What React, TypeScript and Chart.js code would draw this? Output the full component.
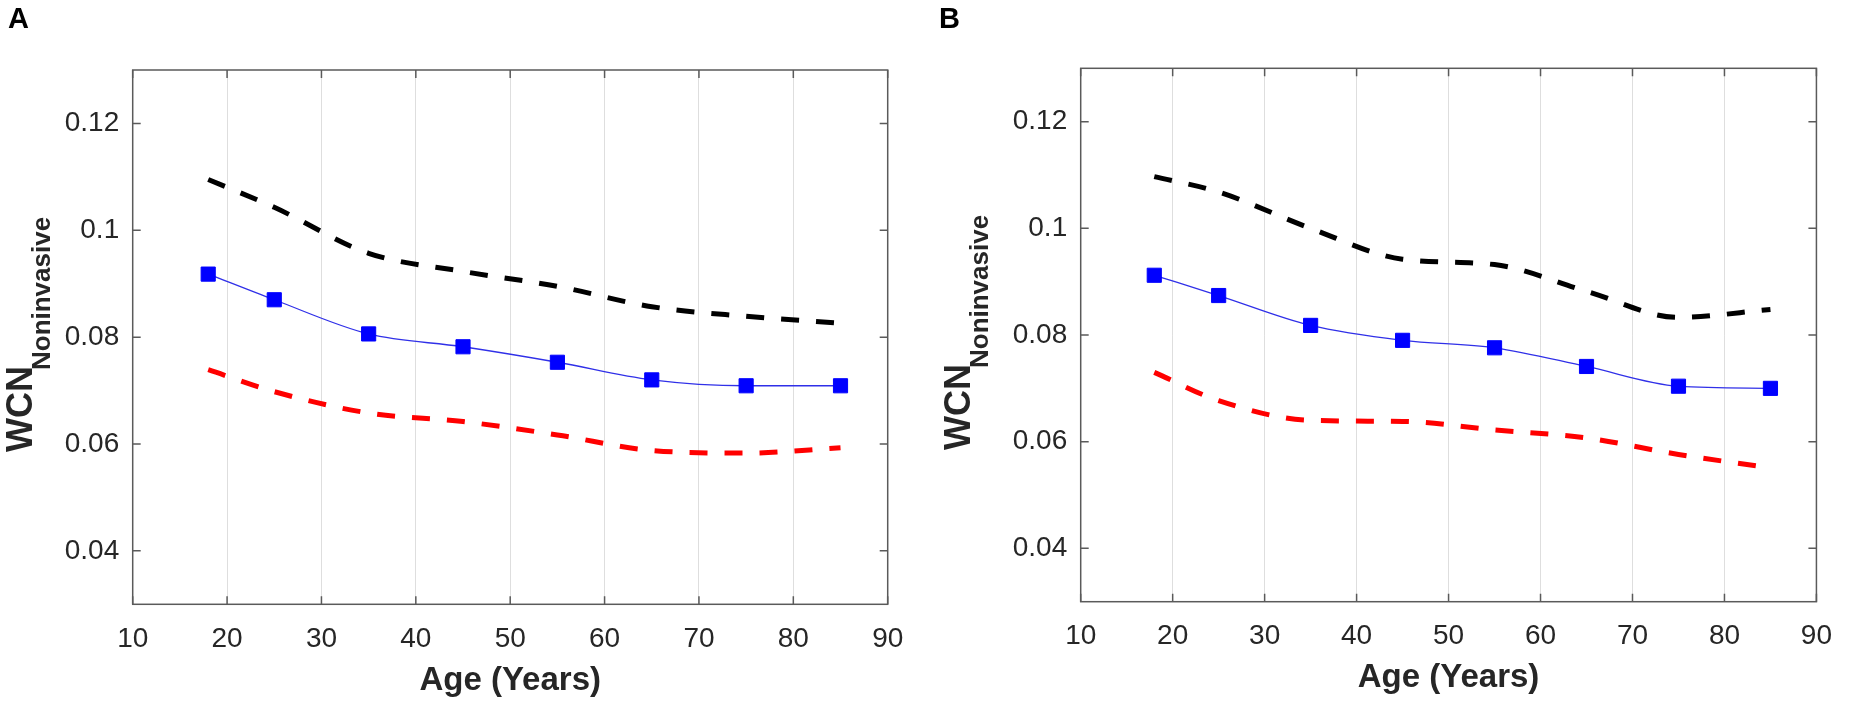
import { useEffect, useRef } from "react"
import { Chart, registerables } from "chart.js"

Chart.register(...registerables)

// Age groups (x) and tick values shared by both panels
const ages = [18, 25, 35, 45, 55, 65, 75, 85]
const xTickValues = [10, 20, 30, 40, 50, 60, 70, 80, 90]
const yTickValues = [0.04, 0.06, 0.08, 0.1, 0.12]

// Panel A
const meanA = [0.0918, 0.087, 0.0806, 0.0782, 0.0753, 0.072, 0.0709, 0.0709]
const upperA = [0.1095, 0.1043, 0.0957, 0.0923, 0.0895, 0.0857, 0.0839, 0.0826]
const lowerA = [0.0739, 0.0698, 0.0658, 0.0642, 0.0617, 0.0588, 0.0583, 0.0593]

// Panel B
const meanB = [0.0912, 0.0874, 0.0818, 0.079, 0.0776, 0.0741, 0.0704, 0.07]
const upperB = [0.1097, 0.1068, 0.1, 0.0942, 0.0932, 0.0882, 0.0833, 0.0848]
const lowerB = [0.073, 0.0677, 0.064, 0.0638, 0.0622, 0.0607, 0.0576, 0.0551]

const FONT = '"Liberation Sans", Arial, Helvetica, sans-serif'
const TEXT = "#262626"

// MATLAB-like box, inward ticks, panel letter and subscripted y label
const matlabFrame = {
  id: "matlabFrame",
  afterDraw(chart: any, _args: any, opts: any) {
    const { ctx } = chart
    const { left, right, top, bottom } = chart.chartArea
    const xs = chart.scales.x
    const ys = chart.scales.y
    const tick = 8

    ctx.save()
    ctx.strokeStyle = "#5a5a5a"
    ctx.lineWidth = 1.5
    ctx.strokeRect(left, top, right - left, bottom - top)
    ctx.beginPath()
    xs.ticks.forEach((t: any) => {
      const px = xs.getPixelForValue(t.value)
      ctx.moveTo(px, bottom)
      ctx.lineTo(px, bottom - tick)
      ctx.moveTo(px, top)
      ctx.lineTo(px, top + tick)
    })
    ys.ticks.forEach((t: any) => {
      const py = ys.getPixelForValue(t.value)
      ctx.moveTo(left, py)
      ctx.lineTo(left + tick, py)
      ctx.moveTo(right, py)
      ctx.lineTo(right - tick, py)
    })
    ctx.stroke()

    ctx.fillStyle = "#000"
    ctx.textAlign = "left"
    ctx.textBaseline = "alphabetic"
    ctx.font = `bold 29px ${FONT}`
    ctx.fillText(opts.letter, opts.letterX, 28)

    ctx.fillStyle = TEXT
    ctx.translate(opts.labelX, opts.labelY)
    ctx.rotate(-Math.PI / 2)
    ctx.font = `bold 36px ${FONT}`
    ctx.fillText("WCN", 0, 0)
    const w = ctx.measureText("WCN").width
    ctx.font = `bold 26px ${FONT}`
    ctx.fillText("Noninvasive", w - 4, 18)
    ctx.restore()
  },
}

interface PanelProps {
  mean: number[]
  upper: number[]
  lower: number[]
  letter: string
  left: number
  plotLeft: number
  plotRight: number
  plotTop: number
  plotBottom: number
  labelX: number
  labelY: number
  letterX: number
  titlePad: number
}

const W = 925
const H = 705

function Panel(p: PanelProps) {
  const canvasRef = useRef<HTMLCanvasElement>(null)

  useEffect(() => {
    if (!canvasRef.current) return
    const toPoints = (vals: number[]) => ages.map((a, i) => ({ x: a, y: vals[i] }))

    const chart = new Chart(canvasRef.current, {
      type: "line",
      data: {
        datasets: [
          {
            data: toPoints(p.upper),
            borderColor: "#000000",
            borderWidth: 5,
            borderDash: [18, 17],
            pointRadius: 0,
            cubicInterpolationMode: "monotone",
            fill: false,
          },
          {
            data: toPoints(p.lower),
            borderColor: "#ff0000",
            borderWidth: 5,
            borderDash: [18, 17],
            pointRadius: 0,
            cubicInterpolationMode: "monotone",
            fill: false,
          },
          {
            data: toPoints(p.mean),
            borderColor: "#3030e8",
            borderWidth: 1.3,
            pointStyle: "rect",
            pointRadius: 10,
            pointBackgroundColor: "#0000ff",
            pointBorderColor: "#0000ff",
            pointBorderWidth: 1,
            cubicInterpolationMode: "monotone",
            fill: false,
          },
        ],
      },
      options: {
        responsive: false,
        animation: false,
        layout: {
          padding: { left: 0, right: W - p.plotRight, top: p.plotTop, bottom: 0 },
        },
        scales: {
          x: {
            type: "linear",
            min: 10,
            max: 90,
            afterBuildTicks: (scale: any) => {
              scale.ticks = xTickValues.map((v) => ({ value: v }))
            },
            afterFit: (scale: any) => {
              scale.height = H - p.plotBottom
            },
            grid: { color: "#dedede", lineWidth: 1, drawTicks: false },
            border: { display: false },
            ticks: {
              autoSkip: false,
              maxRotation: 0,
              padding: 18,
              color: TEXT,
              font: { family: FONT, size: 28 },
            },
            title: {
              display: true,
              text: "Age (Years)",
              color: TEXT,
              font: { family: FONT, size: 33, weight: "bold" },
              padding: { top: 0, bottom: p.titlePad },
            },
          },
          y: {
            type: "linear",
            min: 0.03,
            max: 0.13,
            afterBuildTicks: (scale: any) => {
              scale.ticks = yTickValues.map((v) => ({ value: v }))
            },
            afterFit: (scale: any) => {
              scale.width = p.plotLeft
            },
            grid: { display: false, drawTicks: false },
            border: { display: false },
            ticks: {
              padding: 13.5,
              color: TEXT,
              font: { family: FONT, size: 28 },
              callback: (v: any) => String(Number(Number(v).toFixed(2))),
            },
          },
        },
        plugins: {
          legend: { display: false },
          tooltip: { enabled: false },
          matlabFrame: {
            letter: p.letter,
            letterX: p.letterX,
            labelX: p.labelX,
            labelY: p.labelY,
          },
        } as any,
      },
      plugins: [matlabFrame],
    } as any)

    return () => chart.destroy()
  }, [p])

  return (
    <div style={{ position: "absolute", left: p.left, top: 0, width: W, height: H }}>
      <canvas ref={canvasRef} width={W} height={H} style={{ display: "block" }} />
    </div>
  )
}

const panelA: PanelProps = {
  mean: meanA,
  upper: upperA,
  lower: lowerA,
  letter: "A",
  left: 0,
  plotLeft: 132.7,
  plotRight: 887.7,
  plotTop: 70,
  plotBottom: 604.3,
  labelX: 32,
  labelY: 452,
  letterX: 8,
  titlePad: 4.2,
}

const panelB: PanelProps = {
  mean: meanB,
  upper: upperB,
  lower: lowerB,
  letter: "B",
  left: 925,
  plotLeft: 155.7,
  plotRight: 901,
  plotTop: 68.3,
  plotBottom: 601.7,
  labelX: 45,
  labelY: 450,
  letterX: 14,
  titlePad: 7.7,
}

export default function App() {
  return (
    <div
      style={{
        position: "absolute",
        left: 0,
        top: 0,
        width: 1850,
        height: 705,
        background: "#ffffff",
        overflow: "hidden",
      }}
    >
      <Panel {...panelA} />
      <Panel {...panelB} />
    </div>
  )
}
